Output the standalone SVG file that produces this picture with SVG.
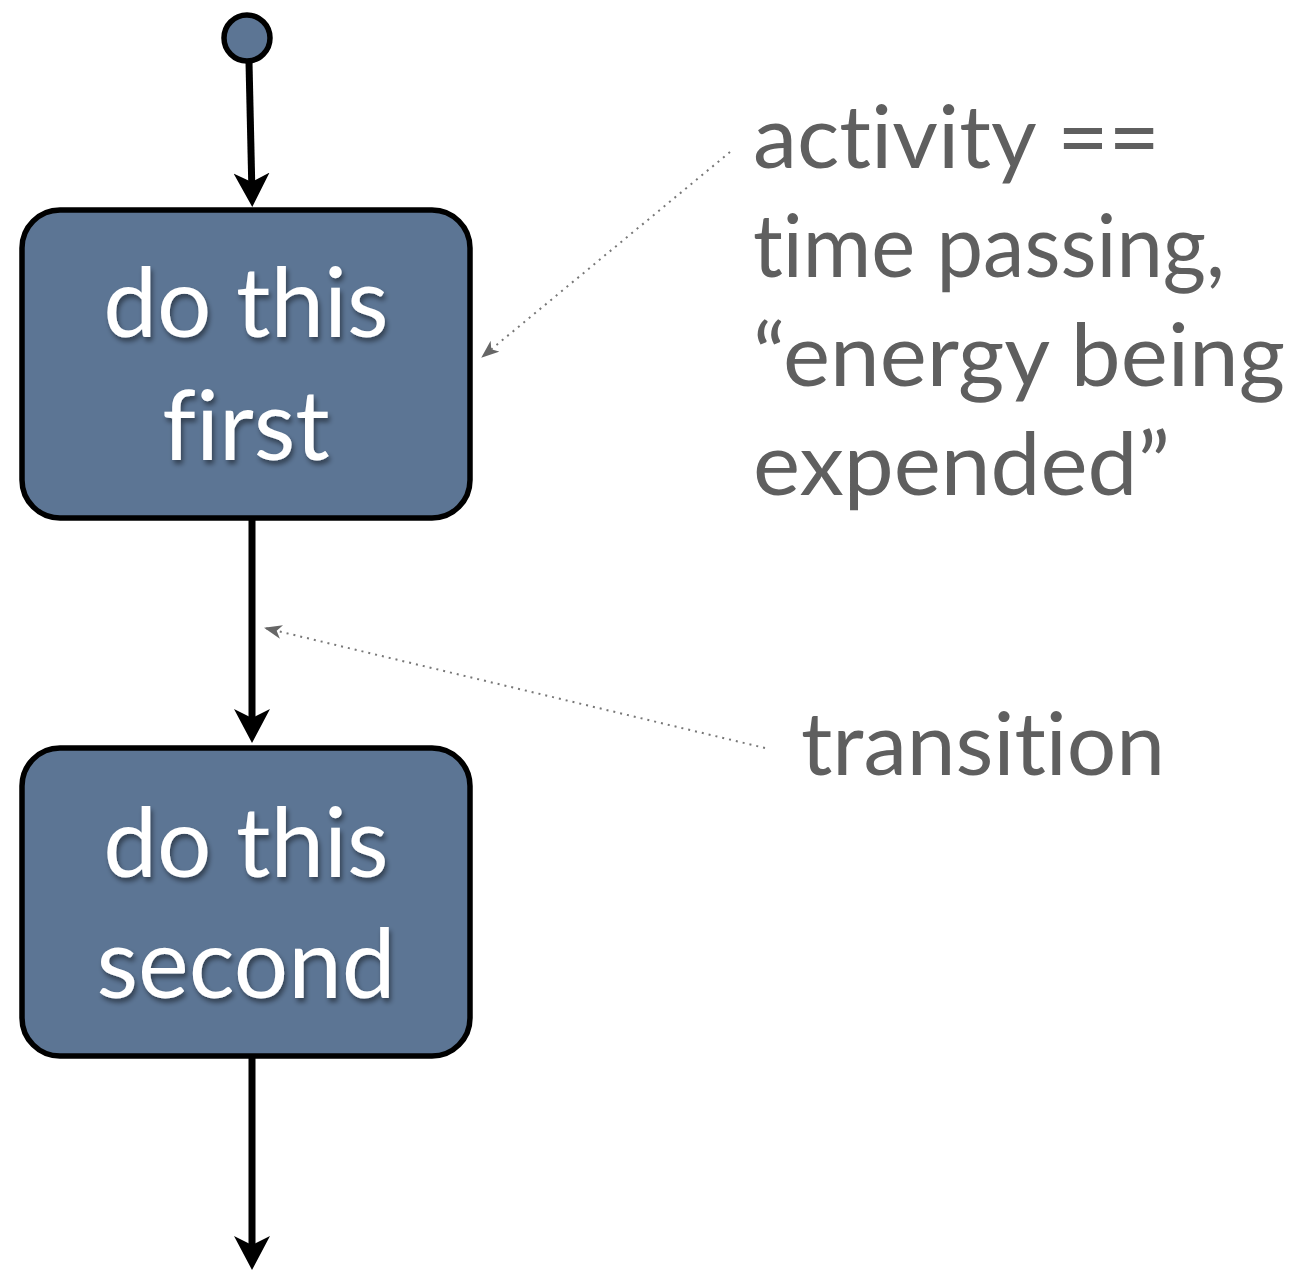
<svg xmlns="http://www.w3.org/2000/svg" width="1300" height="1273" viewBox="0 0 1300 1273">
<style>
.box{fill:#5c7594;stroke:#000;stroke-width:5.5}
.lbl{font-family:Lato,"Open Sans","Liberation Sans",sans-serif;font-size:96px;fill:#fff;text-anchor:middle;font-variant-ligatures:none}
.note{font-family:Lato,"Open Sans","Liberation Sans",sans-serif;font-size:88px;fill:#5f5f5f;font-variant-ligatures:none}
.flow{stroke:#000;stroke-width:7;fill:none}
.dot{stroke:#777;stroke-width:2;stroke-dasharray:2 5;fill:none}
</style>
<defs>
<filter id="sh" x="-10%" y="-10%" width="130%" height="140%">
<feDropShadow dx="2" dy="4" stdDeviation="2.5" flood-color="#000" flood-opacity="0.45"/>
</filter>
<marker id="ahd" markerWidth="34" markerHeight="36" refX="22" refY="18" orient="auto" markerUnits="userSpaceOnUse" viewBox="0 0 34 36">
<path d="M0,0 L34,18 L0,36 L9,18 Z" fill="#000"/>
</marker>
<marker id="sm" markerWidth="18" markerHeight="14" refX="17" refY="7" orient="auto" markerUnits="userSpaceOnUse" viewBox="0 0 18 14">
<path d="M0,0 L18,7 L0,14 L5,7 Z" fill="#666"/>
</marker>
</defs>
<g id="connectors">
<path class="flow" d="M249,62 L252,195" marker-end="url(#ahd)"/>
<path class="flow" d="M252,520 L252,731" marker-end="url(#ahd)"/>
<path class="flow" d="M252,1057 L252,1258" marker-end="url(#ahd)"/>
<path class="dot" d="M730,152 L482,357" marker-end="url(#sm)"/>
<path class="dot" d="M765,748 L265,628" marker-end="url(#sm)"/>
</g>
<g id="start">
<circle cx="247" cy="38" r="23" fill="#5c7594" stroke="#000" stroke-width="5.5"/>
</g>
<g id="node1">
<rect class="box" x="22" y="210" width="448" height="308" rx="38"/>
<g filter="url(#sh)">
<text class="lbl" x="246" y="337">do this</text>
<text class="lbl" x="246" y="460">first</text>
</g>
</g>
<g id="node2">
<rect class="box" x="22" y="748" width="448" height="308" rx="38"/>
<g filter="url(#sh)">
<text class="lbl" x="246" y="877">do this</text>
<text class="lbl" x="246" y="998">second</text>
</g>
</g>
<g id="note-activity">
<text class="note" x="753" y="168" textLength="407" lengthAdjust="spacingAndGlyphs">activity ==</text>
<text class="note" x="753" y="277" textLength="472" lengthAdjust="spacingAndGlyphs">time passing,</text>
<text class="note" x="753" y="386" textLength="532" lengthAdjust="spacingAndGlyphs">“energy being</text>
<text class="note" x="753" y="495" textLength="417" lengthAdjust="spacingAndGlyphs">expended”</text>
</g>
<g id="note-transition">
<text class="note" x="801" y="775" textLength="364" lengthAdjust="spacingAndGlyphs">transition</text>
</g>
</svg>
